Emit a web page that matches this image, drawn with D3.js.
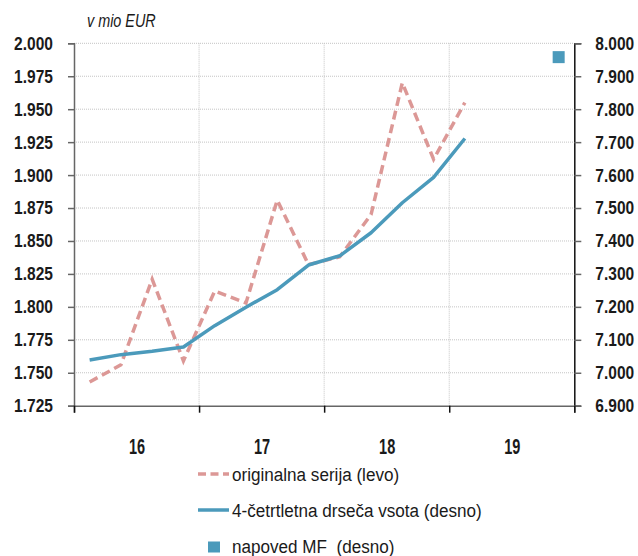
<!DOCTYPE html>
<html>
<head>
<meta charset="utf-8">
<script src="https://cdn.jsdelivr.net/npm/d3@7"></script>
<style>
  html, body { margin: 0; padding: 0; background: #fff; }
  svg { display: block; }
  text { font-family: "Liberation Sans", Arial, sans-serif; fill: #1a1a1a; }
</style>
</head>
<body>
<svg id="chart" width="638" height="556"></svg>
<script>
// Quarterly data, 2016Q1 .. 2019Q1 (quarter index from start of 2016)
const quarterIndex = [0, 1, 2, 3, 4, 5, 6, 7, 8, 9, 10, 11, 12];
// original series, left axis (v mio EUR)
const originalSeries = [1.743, 1.756, 1.821, 1.759, 1.812, 1.803, 1.881, 1.832, 1.838, 1.870, 1.970, 1.912, 1.955];
// 4-quarter rolling sum, right axis
const rollingSum = [7.039, 7.055, 7.065, 7.078, 7.143, 7.199, 7.252, 7.327, 7.355, 7.425, 7.516, 7.593, 7.711];
// MF forecast (right axis), placed in the last quarter of 2019
const forecastQuarter = [15];
const forecastValue = [7.958];

const yearLabels = ["16", "17", "18", "19"];
const leftTicks = [1.725, 1.750, 1.775, 1.800, 1.825, 1.850, 1.875, 1.900, 1.925, 1.950, 1.975, 2.000];
const rightTicks = [6.9, 7.0, 7.1, 7.2, 7.3, 7.4, 7.5, 7.6, 7.7, 7.8, 7.9, 8.0];

const legendLabels = ["originalna serija (levo)", "4-četrtletna drseča vsota (desno)", "napoved MF  (desno)"];

const colPink = "#dc9896";
const colBlue = "#4b9abb";

const svg = d3.select("#chart");
const plot = { left: 74, right: 574.3, top: 43.3, bottom: 405.7 };

const x = d3.scaleLinear().domain([0, 16]).range([plot.left, plot.right]);
const yL = d3.scaleLinear().domain([1.725, 2.0]).range([plot.bottom, plot.top]);
const yR = d3.scaleLinear().domain([6.9, 8.0]).range([plot.bottom, plot.top]);

const fmt3 = d3.format(".3f");

// narrow the text horizontally around its anchor point
function squeeze(sel, sx) {
  sel.each(function () {
    const t = d3.select(this);
    const tx = +t.attr("x") || 0;
    const ty = +t.attr("y") || 0;
    t.attr("x", 0).attr("y", 0)
      .attr("transform", `translate(${tx},${ty}) scale(${sx},1)`);
  });
}

// horizontal grid
svg.append("g")
  .selectAll("line")
  .data(leftTicks.slice(1))
  .join("line")
  .attr("x1", plot.left).attr("x2", plot.right)
  .attr("y1", d => yL(d)).attr("y2", d => yL(d))
  .attr("stroke", "#c4c4c4").attr("stroke-width", 1)
  .attr("stroke-dasharray", "1,1");

// vertical grid at year boundaries
svg.append("g")
  .selectAll("line")
  .data([4, 8, 12])
  .join("line")
  .attr("x1", d => x(d)).attr("x2", d => x(d))
  .attr("y1", plot.top).attr("y2", plot.bottom)
  .attr("stroke", "#c4c4c4").attr("stroke-width", 1)
  .attr("stroke-dasharray", "1,1");

// left axis
const axL = svg.append("g")
  .attr("transform", `translate(${plot.left},0)`)
  .call(d3.axisLeft(yL).tickValues(leftTicks).tickFormat(fmt3).tickSizeOuter(0).tickSize(6).tickPadding(15));
axL.select(".domain").attr("stroke", "#666").attr("stroke-width", 1.5);
axL.selectAll(".tick line").attr("stroke", "#666").attr("stroke-width", 1.5);
axL.selectAll(".tick text")
  .attr("font-size", 18.5).attr("font-weight", "bold")
  .style("font-family", "'Liberation Sans', Arial, sans-serif")
  .attr("fill", "#1a1a1a")
  .call(squeeze, 0.84);

// right axis
const axR = svg.append("g")
  .attr("transform", `translate(${plot.right},0)`)
  .call(d3.axisRight(yR).tickValues(rightTicks).tickFormat(fmt3).tickSizeOuter(0).tickSize(7).tickPadding(14));
axR.select(".domain").attr("stroke", "#111").attr("stroke-width", 1.5);
axR.selectAll(".tick line").attr("stroke", "#666").attr("stroke-width", 1.5);
axR.selectAll(".tick text")
  .attr("font-size", 18.5).attr("font-weight", "bold")
  .style("font-family", "'Liberation Sans', Arial, sans-serif")
  .attr("fill", "#1a1a1a")
  .call(squeeze, 0.84);

// bottom axis with year ticks
const axB = svg.append("g")
  .attr("transform", `translate(0,${plot.bottom})`)
  .call(d3.axisBottom(x).tickValues([0, 4, 8, 12, 16]).tickFormat("").tickSizeOuter(0).tickSize(7));
axB.select(".domain").attr("stroke", "#666").attr("stroke-width", 1.5);
axB.selectAll(".tick line").attr("stroke", "#111").attr("stroke-width", 1.5);

// year labels centred in each year
svg.append("g")
  .selectAll("text")
  .data(yearLabels)
  .join("text")
  .attr("x", (d, i) => x(i * 4 + 2) + 0.5)
  .attr("y", 454)
  .attr("text-anchor", "middle")
  .attr("font-size", 22).attr("font-weight", "bold")
  .text(d => d)
  .call(squeeze, 0.66);

// unit title
svg.append("text")
  .attr("x", 87).attr("y", 27)
  .attr("font-size", 18).attr("font-style", "italic")
  .text("v mio EUR")
  .call(squeeze, 0.8);

// original series (dashed, left axis)
const lineL = d3.line().x(d => x(d[0] + 0.5)).y(d => yL(d[1]));
svg.append("path")
  .datum(quarterIndex.map((q, i) => [q, originalSeries[i]]))
  .attr("d", lineL)
  .attr("fill", "none")
  .attr("stroke", colPink).attr("stroke-width", 3.5)
  .attr("stroke-dasharray", "9,5");

// rolling sum (solid, right axis)
const lineR = d3.line().x(d => x(d[0] + 0.5)).y(d => yR(d[1]));
svg.append("path")
  .datum(quarterIndex.map((q, i) => [q, rollingSum[i]]))
  .attr("d", lineR)
  .attr("fill", "none")
  .attr("stroke", colBlue).attr("stroke-width", 3.5)
  .attr("stroke-linejoin", "round");

// forecast marker
svg.append("g")
  .selectAll("rect")
  .data(forecastQuarter.map((q, i) => [q, forecastValue[i]]))
  .join("rect")
  .attr("x", d => x(d[0] + 0.5) - 6)
  .attr("y", d => yR(d[1]) - 6)
  .attr("width", 12).attr("height", 12)
  .attr("fill", colBlue);

// legend
const leg = svg.append("g");
const legRows = [474, 510, 546];
leg.append("line")
  .attr("x1", 198).attr("x2", 229).attr("y1", legRows[0]).attr("y2", legRows[0])
  .attr("stroke", colPink).attr("stroke-width", 3.5).attr("stroke-dasharray", "8,4.5");
leg.append("line")
  .attr("x1", 198).attr("x2", 229).attr("y1", legRows[1]).attr("y2", legRows[1])
  .attr("stroke", colBlue).attr("stroke-width", 3.5);
leg.append("rect")
  .attr("x", 208).attr("y", legRows[2] - 4.5).attr("width", 12).attr("height", 11)
  .attr("fill", colBlue);
leg.selectAll("text")
  .data(legendLabels)
  .join("text")
  .attr("x", 232)
  .attr("y", (d, i) => legRows[i] + 7)
  .attr("font-size", 19)
  .style("white-space", "pre")
  .text(d => d)
  .call(squeeze, 0.9);
</script>
</body>
</html>
